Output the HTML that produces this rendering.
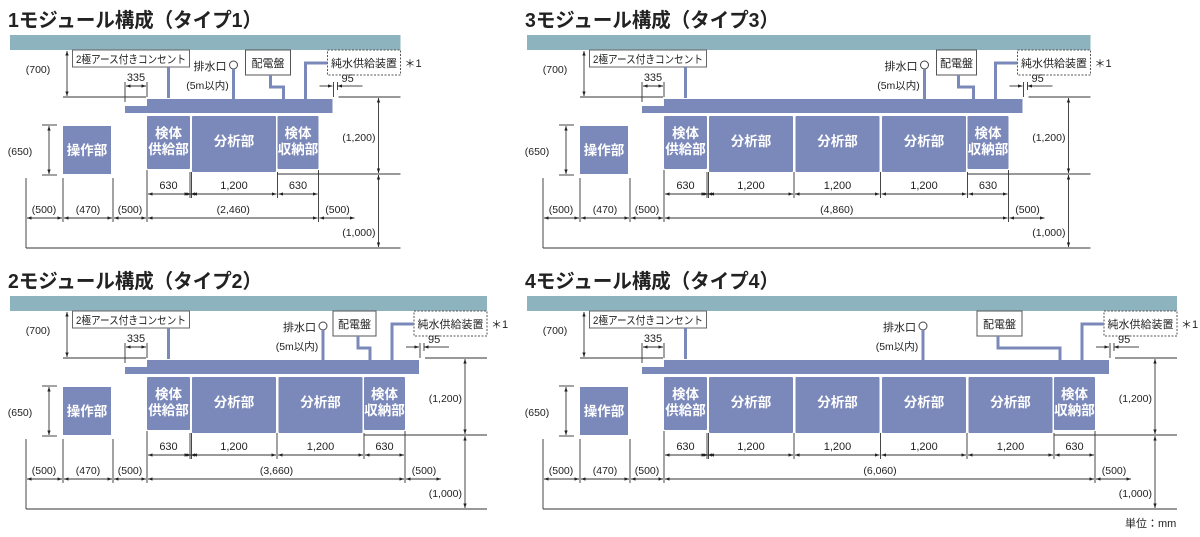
<!DOCTYPE html>
<html><head><meta charset="utf-8"><style>
html,body{margin:0;padding:0;background:#fff;width:1200px;height:537px;overflow:hidden}
svg{display:block}
text{font-family:"Liberation Sans","Noto Sans CJK JP",sans-serif;fill:#222}
</style></head><body>
<svg id="s" width="1200" height="537" xmlns="http://www.w3.org/2000/svg">
<defs>
<marker id="a" viewBox="0 0 6 6" refX="6" refY="3" markerWidth="5" markerHeight="5" orient="auto-start-reverse"><path d="M0,0.8 L6,3 L0,5.2 z" fill="#222"/></marker>
</defs>
<text x="1125" y="527" font-size="11">単位：mm</text>
</svg>
<script>
const S=document.getElementById('s');
const MC='#7b88ba';
function panel(dx,dy,n,title,drainOff,boardL,boardW,boardPipeL){
 let o='';
 const supL=147,supR=190;
 let ax=192;
 const anas=[];
 for(let i=0;i<n;i++){anas.push(ax);ax+=86.5;}
 const recL=ax-1, recR=recL+41;
 const benchR=recR+14, barR=benchR+68;
 const L=(x1,y1,x2,y2,ex='')=>o+=`<line x1="${x1}" y1="${y1}" x2="${x2}" y2="${y2}" stroke="#333" stroke-width="0.9" ${ex}/>`;
 const D=(x1,y1,x2,y2)=>L(x1,y1,x2,y2,'marker-start="url(#a)" marker-end="url(#a)"');
 const T=(x,y,t,sz=11,anc='middle',ex='')=>o+=`<text x="${x}" y="${y}" font-size="${sz}" text-anchor="${anc}" ${ex}>${t}</text>`;
 T(8,27,title,20,'start','font-weight="bold" textLength="254" lengthAdjust="spacingAndGlyphs"');
 o+=`<rect x="10" y="35" width="${barR-10}" height="15" fill="#8db3bf"/>`;
 D(67,51,67,96); T(38,73,'(700)',10.5);
 L(63,97,146,97);
 o+=`<rect x="72.5" y="50" width="117" height="17" fill="#fff" stroke="#666"/>`;
 T(76,63,'2極アース付きコンセント',11,'start','textLength="110" lengthAdjust="spacingAndGlyphs"');
 o+=`<rect x="167" y="67" width="3" height="31" fill="${MC}"/>`;
 L(125,82,125,102); L(147,82,147,97); D(126,86,146,86); T(136,81,'335',11);
 o+=`<path d="M147,99 H${benchR} V113 H125 V106 H147 Z" fill="${MC}"/>`;
 const dX=benchR-drainOff;
 o+=`<circle cx="${dX}" cy="65" r="4" fill="#fff" stroke="#444"/>`;
 T(dX-7,70,'排水口',11,'end');
 o+=`<rect x="${dX-1.5}" y="69" width="3" height="30" fill="${MC}"/>`;
 T(dX-26,89,'(5m以内)',10.5);
 const bL=benchR-boardL;
 o+=`<rect x="${bL}" y="50" width="${boardW}" height="25" fill="#fff" stroke="#555"/>`;
 T(bL+boardW/2,67,'配電盤',11);
 const pX=benchR-49;
 o+=`<path d="M${bL+boardPipeL},75 V87 H${pX} V99" fill="none" stroke="${MC}" stroke-width="3"/>`;
 o+=`<rect x="${benchR-5}" y="50" width="73" height="25" fill="#fff" stroke="#555" stroke-dasharray="2,1.5"/>`;
 T(benchR+31.5,67,'純水供給装置',11,'middle','textLength="66" lengthAdjust="spacingAndGlyphs"');
 T(benchR+72,67,'＊1',11,'start');
 o+=`<path d="M${benchR-5},63 H${benchR-27} V99" fill="none" stroke="${MC}" stroke-width="3"/>`;
 L(benchR-13,86,benchR,86,'marker-end="url(#a)"');
 L(benchR+1,82,benchR+1,97);
 L(benchR+5,82,benchR+5,90);
 L(benchR+18,86,benchR+5,86,'marker-end="url(#a)"');
 L(benchR+18,86,benchR+30,86);
 T(benchR+9,82,'95',11,'start');
 L(benchR+6,97,barR,97);
 const rX=benchR+46;
 D(rX,98,rX,173); D(rX,175,rX,247);
 T(benchR+43,141,'(1,200)',10.5,'end'); T(benchR+43,236,'(1,000)',10.5,'end');
 L(recL,174,barR,174);
 const mod=(x,w,h,lab)=>{o+=`<rect x="${x}" y="116" width="${w}" height="${h}" fill="${MC}" rx="1"/>`;lab.forEach((t,i)=>T(x+w/2,lab.length==1?146:138+i*16,t,13.5,'middle','font-weight="bold" style="fill:#fff"'));};
 mod(supL,supR-supL,53,['検体','供給部']);
 anas.forEach(x=>mod(x,84,56,['分析部']));
 mod(recL,41,53,['検体','収納部']);
 o+=`<rect x="63" y="126" width="48" height="48" fill="${MC}"/>`;
 T(87,155,'操作部',13.5,'middle','font-weight="bold" style="fill:#fff"');
 D(49,126,49,174); L(42,125,57,125); L(42,175,57,175); T(20,155,'(650)',10.5);
 L(26,178,26,248); L(63,178,63,222); L(113,178,113,222); L(147,170,147,222);
 const bnd=[supR,...anas.map((x,i)=>i==0?x-0.5:x-1.5),recL];
 bnd.forEach(x=>L(x,172,x,198)); L(recR,170,recR,222);
 const r1=[supL,...bnd,recR];
 for(let i=0;i<r1.length-1;i++){D(r1[i]+1,194,r1[i+1]-1,194);}
 T((supL+supR)/2,189,'630'); anas.forEach(x=>T(x+42,189,'1,200')); T((recL+recR)/2,189,'630');
 D(27,218,62,218); D(64,218,112,218); D(114,218,146,218); D(148,218,recR-1,218);
 L(recR+1,218,recR+36,218,'marker-start="url(#a)" marker-end="url(#a)"');
 T(44,213,'(500)',10.5); T(88,213,'(470)',10.5); T(130,213,'(500)',10.5);
 T((148+recR)/2,213,'('+['2,460','3,660','4,860','6,060'][n-1]+')',10.5);
 T(recR+19,213,'(500)',10.5);
 L(26,248,barR,248);
 const g=document.createElementNS('http://www.w3.org/2000/svg','g');
 g.setAttribute('transform',`translate(${dx},${dy})`);
 g.innerHTML=o; S.appendChild(g);
}
panel(0,0,1,'1モジュール構成（タイプ1）',99,87,45,25);
panel(0,261,2,'2モジュール構成（タイプ2）',96,86,43,25);
panel(517,0,3,'3モジュール構成（タイプ3）',98,86,40,22);
panel(517,261,4,'4モジュール構成（タイプ4）',186,132,45,21);
</script>
</body></html>
